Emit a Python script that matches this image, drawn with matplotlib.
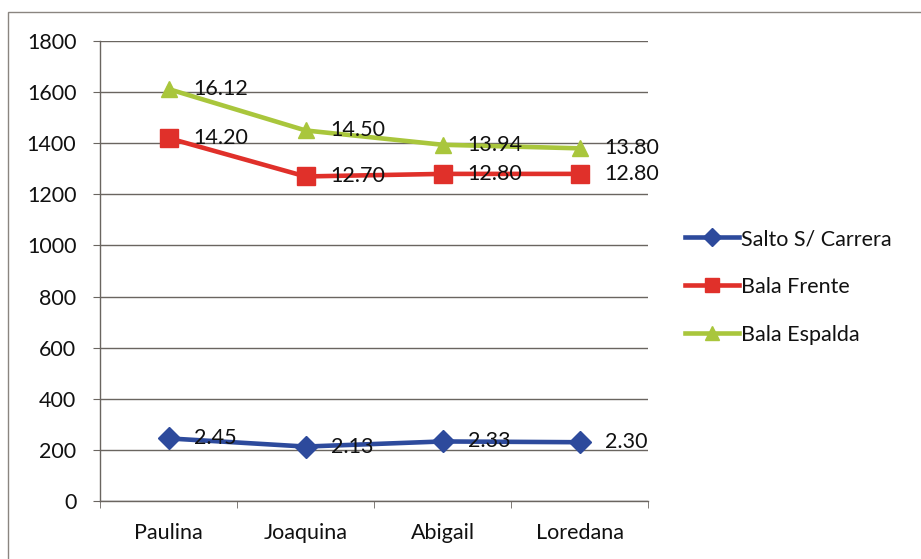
import matplotlib
matplotlib.use("Agg")
import matplotlib.pyplot as plt
from matplotlib.patches import Rectangle

plt.rcParams['font.family'] = ['Lato', 'DejaVu Sans']

athletes = ["Paulina", "Joaquina", "Abigail", "Loredana"]
salto = [2.45, 2.13, 2.33, 2.30]
bala_frente = [14.20, 12.70, 12.80, 12.80]
bala_espalda = [16.12, 14.50, 13.94, 13.80]
series_names = ["Salto S/ Carrera", "Bala Frente", "Bala Espalda"]
y_ticks = [0, 200, 400, 600, 800, 1000, 1200, 1400, 1600, 1800]
scale = 100  # marks are plotted at value x 100

W, H = 921, 559
fig = plt.figure(figsize=(W / 100, H / 100), dpi=100)
fig.patch.set_facecolor("white")

# outer frame of the chart object
fig.add_artist(Rectangle((8 / W, -0.05), 1.1, 1 - 12 / H + 0.05,
                         transform=fig.transFigure, fill=False,
                         edgecolor="#8a8580", linewidth=1.0))

left, right, top, bottom = 100, 648, 41, 501
ax = fig.add_axes([left / W, 1 - bottom / H, (right - left) / W, (bottom - top) / H])

FS = 15.5
TXT = "#111111"
x = list(range(len(athletes)))
styles = [
    (salto, "#2d4a9c", "D", 11),
    (bala_frente, "#e0302a", "s", 12.5),
    (bala_espalda, "#a9c63c", "^", 12),
]
for (vals, color, marker, ms), name in zip(styles, series_names):
    yv = [v * scale for v in vals]
    ax.plot(x, yv, color=color, linewidth=3.3, marker=marker, markersize=ms,
            markeredgecolor=color, label=name, zorder=3)
    for xi, v in zip(x, vals):
        ax.annotate(f"{v:.2f}", (xi, v * scale), xytext=(18, 0),
                    textcoords="offset points", ha="left", va="center",
                    fontsize=FS, color=TXT, zorder=4)

ax.set_xlim(-0.5, len(athletes) - 0.5)
ax.set_ylim(0, 1800)
ax.set_yticks(y_ticks)
ax.set_yticklabels([str(t) for t in y_ticks], fontsize=FS, color=TXT)
ax.set_xticks(x)
ax.set_xticklabels(athletes, fontsize=FS, color=TXT)
ax.set_xticks([i + 0.5 for i in range(-1, len(athletes))], minor=True)
ax.tick_params(axis="x", which="major", length=0, pad=16)
ax.tick_params(axis="x", which="minor", length=5, color="#6a6560", direction="out")
ax.tick_params(axis="y", length=5, color="#6a6560", pad=12)
ax.grid(axis="y", color="#6a6560", linewidth=1.0)
ax.set_axisbelow(True)
for s in ["top", "right"]:
    ax.spines[s].set_visible(False)
for s in ["left", "bottom"]:
    ax.spines[s].set_color("#6a6560")
    ax.spines[s].set_linewidth(1.0)

leg = ax.legend(loc="center left", bbox_to_anchor=(666 / W, 1 - 287 / H),
                bbox_transform=fig.transFigure, frameon=False, fontsize=FS,
                handlelength=2.5, handletextpad=0.1, labelspacing=1.3,
                markerscale=0.8)
for t in leg.get_texts():
    t.set_color(TXT)

fig.savefig("out.png", dpi=100)
